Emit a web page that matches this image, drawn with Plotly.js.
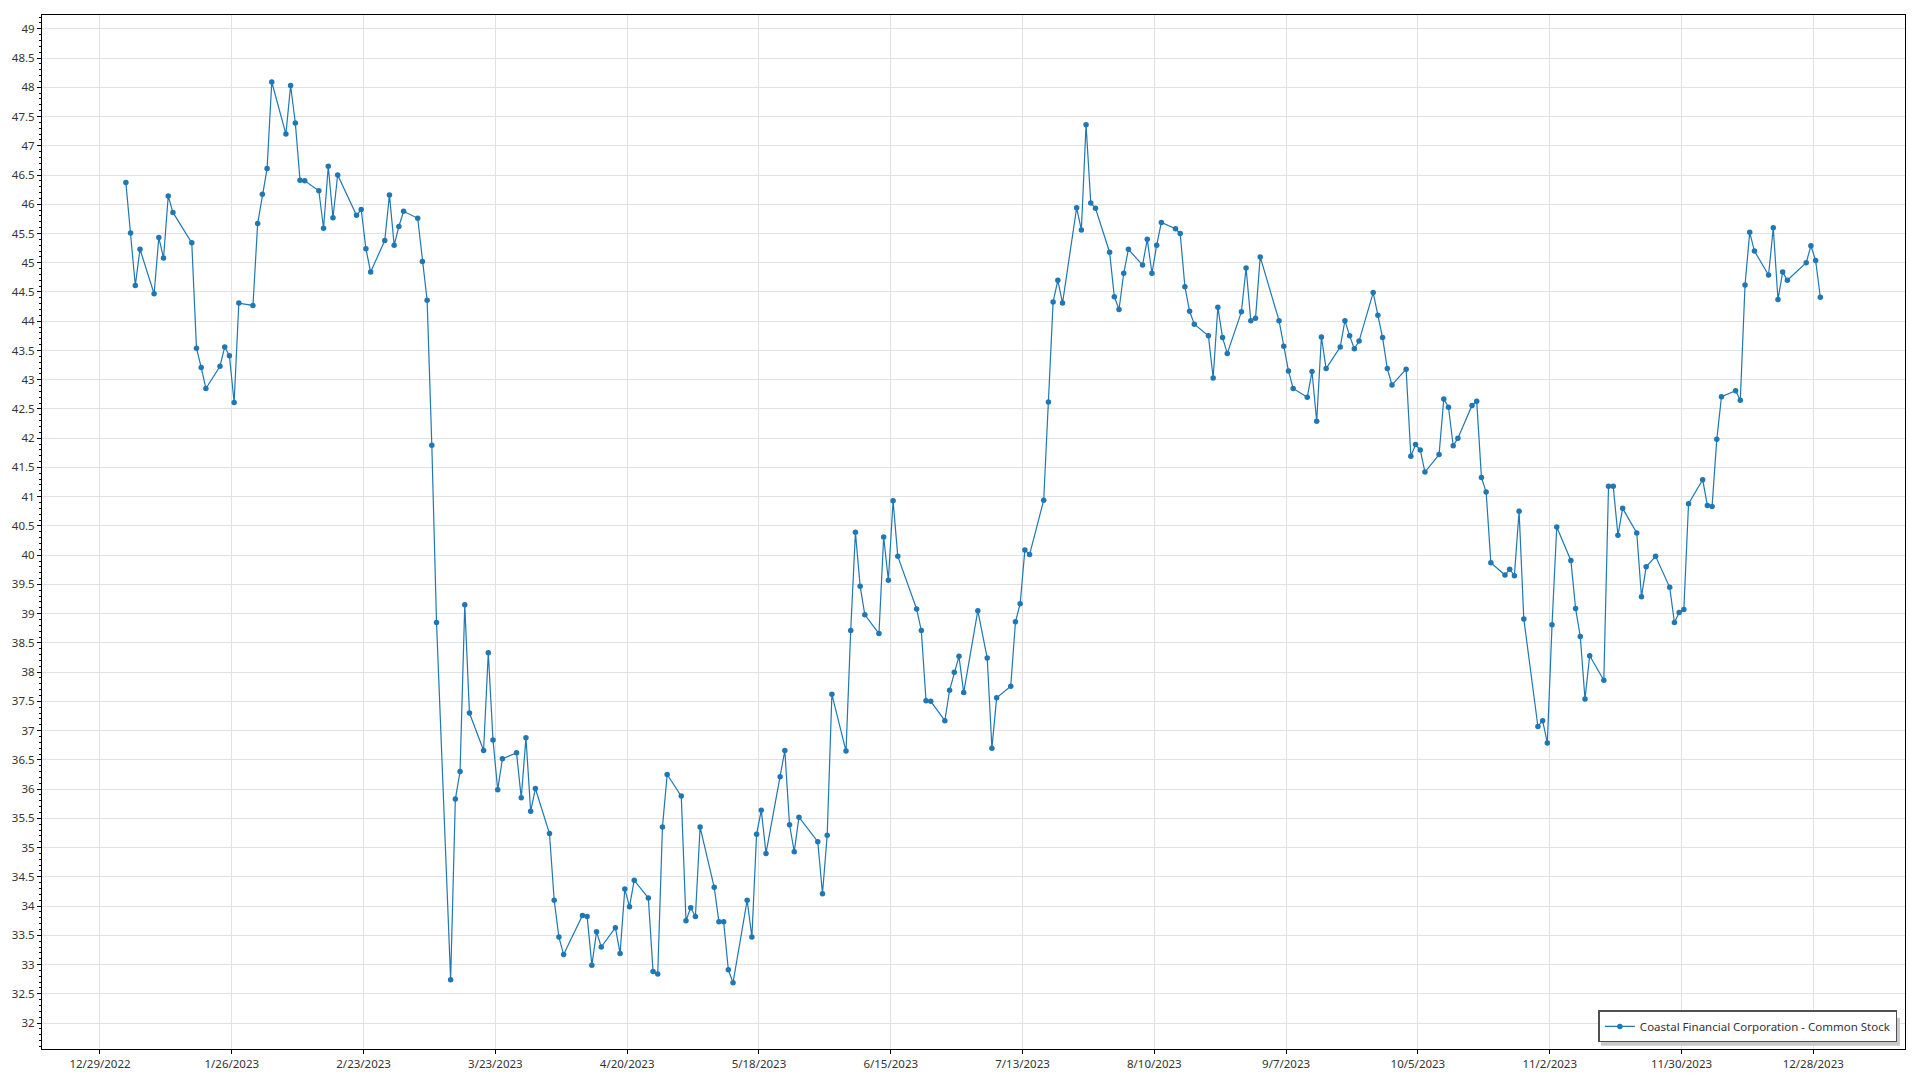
<!DOCTYPE html>
<html>
<head>
<meta charset="utf-8">
<script src="https://cdn.plot.ly/plotly-3.0.1.min.js"></script>
<style>
  html, body { margin: 0; padding: 0; background: #ffffff; }
  #chart { width: 1920px; height: 1080px; }
</style>
</head>
<body>
<div id="chart"></div>
<script>
// ---- Data: daily closing prices, 2023 ----
const seriesName = "Coastal Financial Corporation - Common Stock";

const janDays  = [3,4,5,6,9,10,11,12,13,17,18,19,20,23,24,25,26,27,30,31];
const janClose = [46.37,45.51,44.61,45.23,44.47,45.43,45.08,46.14,45.86,45.34,43.54,43.21,42.85,43.23,43.56,43.41,42.61,44.31,44.27,45.67];

const febDays  = [1,2,3,6,7,8,9,10,13,14,15,16,17,21,22,23,24,27,28];
const febClose = [46.17,46.61,48.09,47.20,48.03,47.39,46.41,46.40,46.23,45.59,46.65,45.77,46.50,45.81,45.91,45.24,44.84,45.38,46.16];

const marDays  = [1,2,3,6,7,8,9,10,13,14,15,16,17,20,21,22,23,24,27,28,29,30,31];
const marClose = [45.30,45.62,45.88,45.76,45.02,44.36,41.88,38.85,32.74,35.83,36.30,39.15,37.30,36.66,38.33,36.84,35.99,36.52,36.62,35.85,36.88,35.62,36.01];

const aprDays  = [3,4,5,6,10,11,12,13,14,17,18,19,20,21,24,25,26,27,28];
const aprClose = [35.24,34.10,33.47,33.17,33.84,33.82,32.99,33.56,33.30,33.63,33.19,34.29,33.99,34.44,34.14,32.88,32.84,35.35,36.25];

const mayDays  = [1,2,3,4,5,8,9,10,11,12,15,16,17,18,19,22,23,24,25,26,30,31];
const mayClose = [35.88,33.75,33.97,33.82,35.35,34.32,33.73,33.73,32.91,32.69,34.10,33.47,35.23,35.64,34.90,36.21,36.66,35.39,34.93,35.52,35.10,34.21];

const junDays  = [1,2,5,6,7,8,9,12,13,14,15,16,20,21,22,23,26,27,28,29,30];
const junClose = [35.21,37.62,36.65,38.71,40.39,39.47,38.98,38.66,40.31,39.57,40.93,39.98,39.08,38.71,37.51,37.50,37.17,37.69,38.00,38.27,37.65];

const julDays  = [3,5,6,7,10,11,12,13,14,17,18,19,20,21,24,25,26,27,28,31];
const julClose = [39.05,38.24,36.70,37.56,37.76,38.86,39.17,40.09,40.01,40.94,42.62,44.33,44.70,44.31,45.94,45.56,47.36,46.02,45.93,45.18];

const augDays  = [1,2,3,4,7,8,9,10,11,14,15,16,17,18,21,22,23,24,25,28,29,30,31];
const augClose = [44.42,44.20,44.82,45.23,44.96,45.40,44.82,45.30,45.69,45.58,45.50,44.59,44.17,43.95,43.75,43.03,44.24,43.72,43.45,44.16,44.91,44.01,44.05];

const sepDays  = [1,5,6,7,8,11,12,13,14,15,18,19,20,21,22,25,26,27,28,29];
const sepClose = [45.10,44.01,43.57,43.15,42.85,42.70,43.14,42.29,43.73,43.19,43.56,44.01,43.75,43.53,43.66,44.49,44.10,43.72,43.19,42.91];

const octDays  = [2,3,4,5,6,9,10,11,12,13,16,17,18,19,20,23,24,25,26,27,30,31];
const octClose = [43.18,41.69,41.89,41.80,41.42,41.72,42.67,42.53,41.87,42.00,42.56,42.63,41.33,41.08,39.87,39.66,39.76,39.65,40.75,38.91,37.07,37.17];

const novDays  = [1,2,3,6,7,8,9,10,13,14,15,16,17,20,21,22,24,27,28,29,30];
const novClose = [36.79,38.81,40.48,39.91,39.09,38.61,37.54,38.28,37.86,41.18,41.18,40.34,40.80,40.38,39.29,39.80,39.98,39.45,38.85,39.02,39.07];

const decDays  = [1,4,5,6,7,8,11,12,13,14,15,18,19,20,21,22,26,27,28,29];
const decClose = [40.88,41.29,40.85,40.83,41.98,42.71,42.81,42.65,44.62,45.52,45.20,44.79,45.60,44.37,44.84,44.70,45.00,45.29,45.04,44.41];

const tickDates  = ["2022-12-29","2023-01-26","2023-02-23","2023-03-23","2023-04-20","2023-05-18","2023-06-15","2023-07-13","2023-08-10","2023-09-07","2023-10-05","2023-11-02","2023-11-30","2023-12-28"];
const tickLabels = ["12/29/2022","1/26/2023","2/23/2023","3/23/2023","4/20/2023","5/18/2023","6/15/2023","7/13/2023","8/10/2023","9/7/2023","10/5/2023","11/2/2023","11/30/2023","12/28/2023"];

// ---- Build series (each close is stamped at midday of its trading date) ----
const monthDays  = [janDays,febDays,marDays,aprDays,mayDays,junDays,julDays,augDays,sepDays,octDays,novDays,decDays];
const monthClose = [janClose,febClose,marClose,aprClose,mayClose,junClose,julClose,augClose,sepClose,octClose,novClose,decClose];
const pad = n => (n < 10 ? "0" : "") + n;
const xDates = [], yClose = [];
monthDays.forEach((days, m) => {
  days.forEach((d, i) => {
    xDates.push("2023-" + pad(m + 1) + "-" + pad(d) + " 12:00");
    yClose.push(monthClose[m][i]);
  });
});

const FONT = "'Segoe UI', 'Noto Sans', 'Open Sans', sans-serif";
const FS = 11.5;
const BLUE = "#1f77b4";

const trace = {
  type: "scatter",
  mode: "lines+markers",
  name: seriesName,
  x: xDates,
  y: yClose,
  line: { color: BLUE, width: 1.2 },
  marker: { color: BLUE, size: 5.5 },
  showlegend: true
};

const layout = {
  width: 1920,
  height: 1080,
  margin: { l: 42, r: 15, t: 15, b: 31, pad: 0 },
  paper_bgcolor: "#ffffff",
  plot_bgcolor: "#ffffff",
  font: { family: FONT, size: FS, color: "#333333" },
  showlegend: true,
  xaxis: {
    type: "date",
    range: ["2022-12-16 16:20", "2024-01-16 11:45"],
    tickmode: "array",
    tickvals: tickDates,
    ticktext: tickLabels,
    showgrid: true,
    gridcolor: "#e2e2e2",
    gridwidth: 1,
    zeroline: false,
    showline: true,
    linecolor: "#000000",
    linewidth: 1,
    mirror: true,
    ticks: "outside",
    ticklen: 4,
    tickcolor: "#000000",
    tickfont: { family: FONT, size: FS, color: "#333333" }
  },
  yaxis: {
    range: [31.556, 49.236],
    tick0: 32,
    dtick: 0.5,
    showgrid: true,
    gridcolor: "#e2e2e2",
    gridwidth: 1,
    zeroline: false,
    showline: true,
    linecolor: "#000000",
    linewidth: 1,
    mirror: true,
    ticks: "outside",
    ticklen: 4,
    tickcolor: "#000000",
    tickfont: { family: FONT, size: FS, color: "#333333" },
    minor: { dtick: 0.1, ticks: "outside", ticklen: 2, tickcolor: "#000000", showgrid: false }
  },
  legend: {
    x: 0.9959,
    y: 0.0064,
    xanchor: "right",
    yanchor: "bottom",
    bgcolor: "#ffffff",
    bordercolor: "#505050",
    borderwidth: 1.5,
    itemwidth: 30,
    font: { family: FONT, size: FS, color: "#333333" }
  },
  shapes: [{
    type: "rect",
    xref: "paper", yref: "paper",
    x0: 0.8368, x1: 0.9973, y0: 0.0032, y1: 0.0303,
    fillcolor: "#c8c8c8",
    line: { width: 0 },
    layer: "above"
  }]
};

Plotly.newPlot("chart", [trace], layout, { displayModeBar: false, staticPlot: true });
</script>
</body>
</html>
